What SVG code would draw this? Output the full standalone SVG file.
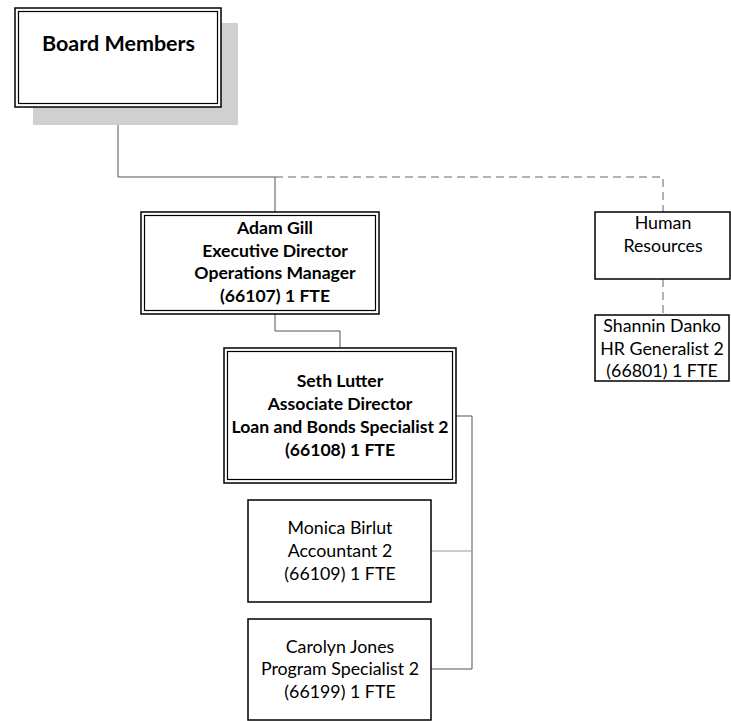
<svg xmlns="http://www.w3.org/2000/svg" width="731" height="721" viewBox="0 0 731 721">
<style>
text{font-family:Lato,"Liberation Sans",sans-serif;font-size:17.8px;fill:#000;text-anchor:middle}
.b{font-weight:bold;font-size:17.6px}
.box{fill:#fff;stroke:#000;stroke-width:1.5}
.dbl{fill:none;stroke:#000;stroke-width:1.2}
.ln{fill:none;stroke:#555;stroke-width:1}
.lg{fill:none;stroke:#999;stroke-width:1}
.ds{fill:none;stroke:#666;stroke-width:1;stroke-dasharray:8,5}
</style>
<rect width="731" height="721" fill="#fff"/>
<g id="connectors">
<polyline class="ln" points="118,107 118,177 275,177 275,212"/>
<polyline class="ds" points="275,177 663,177 663,212"/>
<line class="ds" x1="663" y1="279" x2="663" y2="315"/>
<polyline class="ln" points="275,314 275,331 340,331 340,348"/>
<polyline class="ln" points="456,416 472,416 472,669 431,669"/>
<line class="lg" x1="431" y1="551" x2="472" y2="551"/>
</g>
<g id="board">
<rect x="33" y="23" width="205" height="102" fill="#d0d0d0"/>
<rect x="15" y="8" width="206" height="99" fill="#fff" stroke="#000" stroke-width="1.5"/>
<rect x="18.5" y="11.5" width="199" height="92" class="dbl"/>
<text class="b" x="42" y="51" style="text-anchor:start;font-size:21.5px">Board Members</text>
</g>
<g id="adam">
<rect x="141" y="212" width="238" height="102" fill="#fff" stroke="#000" stroke-width="1.5"/>
<rect x="144.5" y="215.5" width="231" height="95" class="dbl"/>
<text class="b" x="275" y="234">Adam Gill</text>
<text class="b" x="275" y="257">Executive Director</text>
<text class="b" x="275" y="279">Operations Manager</text>
<text class="b" x="275" y="302">(66107) 1 FTE</text>
</g>
<g id="seth">
<rect x="224" y="348" width="232" height="135" fill="#fff" stroke="#000" stroke-width="1.5"/>
<rect x="227.5" y="351.5" width="225" height="128" class="dbl"/>
<text class="b" x="340" y="387">Seth Lutter</text>
<text class="b" x="340" y="410">Associate Director</text>
<text class="b" x="340" y="433">Loan and Bonds Specialist 2</text>
<text class="b" x="340" y="456">(66108) 1 FTE</text>
</g>
<g id="hr">
<rect class="box" x="595" y="212" width="135" height="67"/>
<text x="663" y="229">Human</text>
<text x="663" y="252">Resources</text>
</g>
<g id="shannin">
<rect class="box" x="595" y="315" width="134" height="66"/>
<text x="662" y="332">Shannin Danko</text>
<text x="662" y="355">HR Generalist 2</text>
<text x="662" y="377">(66801) 1 FTE</text>
</g>
<g id="monica">
<rect class="box" x="248" y="500" width="183" height="102"/>
<text x="340" y="534">Monica Birlut</text>
<text x="340" y="557">Accountant 2</text>
<text x="340" y="580">(66109) 1 FTE</text>
</g>
<g id="carolyn">
<rect class="box" x="248" y="619" width="183" height="101"/>
<text x="340" y="653">Carolyn Jones</text>
<text x="340" y="675">Program Specialist 2</text>
<text x="340" y="698">(66199) 1 FTE</text>
</g>
</svg>
